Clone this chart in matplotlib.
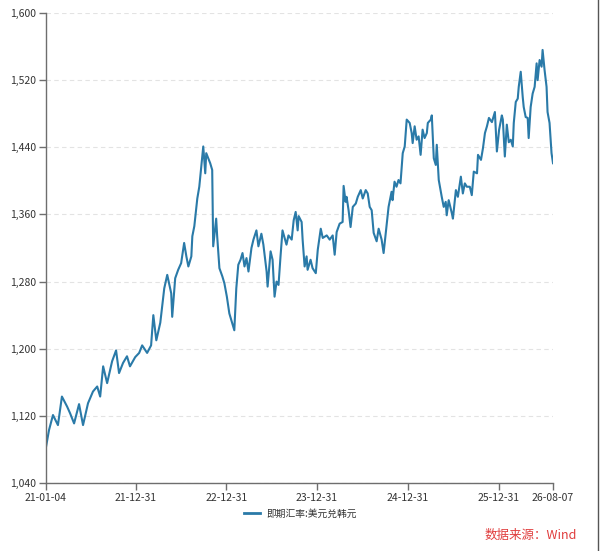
import pandas as pd
import matplotlib
matplotlib.use('Agg')
import matplotlib.pyplot as plt
import matplotlib.dates as mdates
from matplotlib.ticker import FuncFormatter, MultipleLocator
from matplotlib.lines import Line2D

plt.rcParams['font.family'] = ['Noto Sans CJK SC', 'DejaVu Sans']

# USD/KRW spot rate
dates = [
    '2021-01-04', '2021-01-16', '2021-02-01', '2021-02-21', '2021-03-09', '2021-03-30',
    '2021-04-11', '2021-04-27', '2021-05-17', '2021-06-02', '2021-06-22', '2021-07-12',
    '2021-07-29', '2021-08-10', '2021-08-22', '2021-09-07', '2021-09-27', '2021-10-13',
    '2021-10-25', '2021-11-10', '2021-11-26', '2021-12-08', '2021-12-29',
    '2022-01-14', '2022-01-26', '2022-02-15', '2022-03-03', '2022-03-12', '2022-03-24',
    '2022-04-09', '2022-04-25', '2022-05-07', '2022-05-23', '2022-05-27', '2022-06-08',
    '2022-06-20', '2022-07-02', '2022-07-14', '2022-07-23', '2022-07-31', '2022-08-12',
    '2022-08-16', '2022-08-24', '2022-09-05', '2022-09-13', '2022-09-21', '2022-09-29',
    '2022-10-07', '2022-10-11', '2022-10-19', '2022-10-27', '2022-11-04', '2022-11-08',
    '2022-11-20', '2022-11-24', '2022-12-03', '2022-12-15', '2022-12-23',
    '2023-01-02', '2023-01-12', '2023-01-24', '2023-02-01', '2023-02-09', '2023-02-17',
    '2023-02-26', '2023-03-06', '2023-03-14', '2023-03-22', '2023-03-30', '2023-04-11',
    '2023-04-19', '2023-05-01', '2023-05-09', '2023-05-21', '2023-05-29', '2023-06-11',
    '2023-06-15', '2023-06-27', '2023-07-05', '2023-07-13', '2023-07-21', '2023-07-29',
    '2023-08-06', '2023-08-14', '2023-08-30', '2023-09-07', '2023-09-20', '2023-09-28',
    '2023-10-06', '2023-10-14', '2023-10-18', '2023-10-30', '2023-11-03', '2023-11-11',
    '2023-11-19', '2023-11-23', '2023-12-05', '2023-12-13', '2023-12-26',
    '2024-01-03', '2024-01-15', '2024-01-23', '2024-02-08', '2024-02-20', '2024-03-03',
    '2024-03-11', '2024-03-19', '2024-03-31', '2024-04-12', '2024-04-16', '2024-04-24',
    '2024-04-28', '2024-05-06', '2024-05-14', '2024-05-23', '2024-06-04', '2024-06-12',
    '2024-06-24', '2024-07-02', '2024-07-14', '2024-07-22', '2024-07-30', '2024-08-07',
    '2024-08-15', '2024-08-27', '2024-09-04', '2024-09-16', '2024-09-24', '2024-10-06',
    '2024-10-14', '2024-10-26', '2024-10-30', '2024-11-07', '2024-11-15', '2024-11-23',
    '2024-12-01', '2024-12-10', '2024-12-18', '2024-12-26',
    '2025-01-07', '2025-01-15', '2025-01-19', '2025-01-27', '2025-02-04', '2025-02-12',
    '2025-02-20', '2025-02-28', '2025-03-08', '2025-03-17', '2025-03-21', '2025-04-02',
    '2025-04-06', '2025-04-14', '2025-04-22', '2025-04-26', '2025-05-04', '2025-05-16',
    '2025-05-24', '2025-06-01', '2025-06-05', '2025-06-13', '2025-06-26', '2025-06-30',
    '2025-07-12', '2025-07-20', '2025-08-01', '2025-08-09', '2025-08-17', '2025-08-25',
    '2025-09-06', '2025-09-14', '2025-09-22', '2025-10-05', '2025-10-09', '2025-10-21',
    '2025-10-29', '2025-11-06', '2025-11-14', '2025-11-22', '2025-12-04', '2025-12-16',
    '2025-12-24',
    '2026-01-02', '2026-01-13', '2026-01-17', '2026-01-25', '2026-02-02', '2026-02-10',
    '2026-02-18', '2026-02-26', '2026-03-02', '2026-03-10', '2026-03-18', '2026-03-22',
    '2026-03-30', '2026-04-07', '2026-04-11', '2026-04-19', '2026-04-27', '2026-05-01',
    '2026-05-09', '2026-05-17', '2026-05-25', '2026-06-02', '2026-06-06', '2026-06-14',
    '2026-06-22', '2026-06-26', '2026-07-04', '2026-07-12', '2026-07-16', '2026-07-24',
    '2026-08-01', '2026-08-07',
]
rates = [
    1083, 1103, 1121, 1109, 1143, 1131,
    1123, 1111, 1134, 1109, 1135, 1149,
    1155, 1143, 1179, 1159, 1185, 1198,
    1171, 1183, 1191, 1179, 1190,
    1195, 1204, 1195, 1204, 1240, 1210,
    1231, 1272, 1288, 1266, 1238, 1284,
    1294, 1302, 1326, 1310, 1298, 1310,
    1334, 1346, 1379, 1393, 1417, 1441,
    1409, 1433, 1427, 1421, 1413, 1322,
    1355, 1334, 1296, 1286, 1278,
    1262, 1242, 1230, 1222, 1272, 1300,
    1306, 1314, 1298, 1308, 1292, 1320,
    1330, 1341, 1322, 1337, 1324, 1292,
    1274, 1316, 1306, 1262, 1280, 1276,
    1310, 1341, 1324, 1335, 1330, 1353,
    1363, 1341, 1358, 1351, 1330, 1298,
    1310, 1294, 1306, 1296, 1290,
    1318, 1343, 1332, 1335, 1330, 1335,
    1312, 1339, 1349, 1351, 1394, 1375,
    1381, 1365, 1345, 1369, 1373, 1381,
    1389, 1379, 1389, 1385, 1369, 1365,
    1338, 1328, 1343, 1330, 1314, 1347,
    1369, 1387, 1377, 1399, 1393, 1401,
    1397, 1433, 1441, 1473,
    1469, 1457, 1445, 1465, 1449, 1453,
    1431, 1461, 1451, 1457, 1469, 1473,
    1478, 1427, 1419, 1443, 1401, 1381,
    1369, 1375, 1359, 1377, 1361, 1355,
    1389, 1381, 1405, 1385, 1397, 1393,
    1393, 1383, 1411, 1409, 1431, 1425,
    1439, 1457, 1465, 1475, 1470, 1482,
    1435,
    1461, 1478, 1473, 1429, 1467, 1446,
    1449, 1441, 1469, 1494, 1498, 1512,
    1530, 1500, 1488, 1476, 1475, 1451,
    1488, 1504, 1512, 1540, 1520, 1544,
    1536, 1556, 1532, 1512, 1482, 1469,
    1433, 1421,
]
tick_dates = ['2021-01-04', '2021-12-31', '2022-12-31', '2023-12-31',
              '2024-12-31', '2025-12-31', '2026-08-07']
series_name = '即期汇率:美元兑韩元'
source_text = '数据来源：Wind'

df = pd.DataFrame({'date': pd.to_datetime(dates), 'rate': rates})
ticks = pd.to_datetime(tick_dates)

fig = plt.figure(figsize=(6.0, 5.51), dpi=100)
ax = fig.add_axes([0.0767, 0.1234, 0.845, 0.853])

line_color = '#2a7aa8'
ax.plot(df['date'], df['rate'], color=line_color, linewidth=1.5)

ax.set_ylim(1040, 1600)
ax.yaxis.set_major_locator(MultipleLocator(80))
ax.yaxis.set_major_formatter(FuncFormatter(lambda v, p: f'{int(v):,}'))
ax.set_xlim(ticks[0], ticks[-1])
ax.set_xticks(ticks)
ax.xaxis.set_major_formatter(mdates.DateFormatter('%y-%m-%d'))

ax.grid(axis='y', color='#e3e3e3', linestyle=(0, (4, 3)), linewidth=0.8)
ax.set_axisbelow(True)
for s in ['top', 'right']:
    ax.spines[s].set_visible(False)
for s in ['left', 'bottom']:
    ax.spines[s].set_color('#6e6e6e')
    ax.spines[s].set_linewidth(1.0)
ax.tick_params(axis='both', colors='#6e6e6e', labelcolor='#333333',
               labelsize=7.5, length=5, width=1.0, pad=2)

handle = Line2D([], [], color=line_color, linewidth=2)
fig.legend([handle], [series_name], loc='center', bbox_to_anchor=(0.5, 0.068),
           frameon=False, fontsize=7, handlelength=1.7, handletextpad=0.6,
           labelcolor='#333333')

fig.text(0.962, 0.028, source_text, color='#e03c3c', fontsize=9, ha='right', va='center')

# border line on the right edge of the screenshot
fig.add_artist(Line2D([0.9965, 0.9965], [0, 1], transform=fig.transFigure,
                      color='#555555', linewidth=1.0))

fig.savefig('out.png', dpi=100)
